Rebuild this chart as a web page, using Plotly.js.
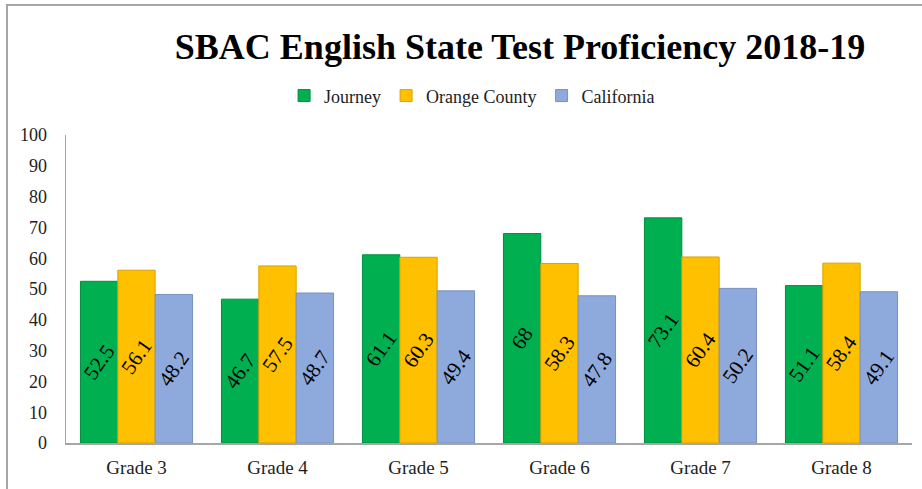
<!DOCTYPE html>
<html>
<head>
<meta charset="utf-8">
<script src="https://cdn.plot.ly/plotly-3.0.1.min.js"></script>
<style>
html,body{margin:0;padding:0;background:#fff;}
#chart{width:922px;height:489px;position:relative;}
#frame{position:absolute;left:6px;top:4px;width:930px;height:500px;border-left:2px solid #a6a6a6;border-top:2px solid #a6a6a6;pointer-events:none;}
</style>
</head>
<body>
<div id="chart"></div>
<div id="frame"></div>
<script>
const categories = ["Grade 3", "Grade 4", "Grade 5", "Grade 6", "Grade 7", "Grade 8"];
const journey = [52.5, 46.7, 61.1, 68, 73.1, 51.1];
const orangeCounty = [56.1, 57.5, 60.3, 58.3, 60.4, 58.4];
const california = [48.2, 48.7, 49.4, 47.8, 50.2, 49.1];
const tickVals = [0, 10, 20, 30, 40, 50, 60, 70, 80, 90, 100];

const serif = "Liberation Serif";

function series(name, vals, color, edge) {
  return {
    type: "bar",
    name: name,
    x: categories,
    y: vals,
    text: vals.map(v => String(v)),
    textposition: "inside",
    insidetextanchor: "middle",
    textangle: -55,
    constraintext: "none",
    textfont: {family: serif, size: 21, color: "#000"},
    marker: {color: color, line: {color: edge, width: 1}},
    hoverinfo: "x+y"
  };
}

const data = [
  series("Journey", journey, "#00B050", "#008c40"),
  series("Orange County", orangeCounty, "#FFC000", "#d9a300"),
  series("California", california, "#8EA9DB", "#7890bd")
];

const layout = {
  width: 922,
  height: 489,
  margin: {l: 66, r: 10, t: 135, b: 46},
  paper_bgcolor: "#fff",
  plot_bgcolor: "#fff",
  barmode: "group",
  bargap: 0.205,
  bargroupgap: 0,
  title: {
    text: "<b>SBAC English State Test Proficiency 2018-19</b>",
    font: {family: serif, size: 36, color: "#000"},
    xref: "container", x: 0.564, xanchor: "center",
    yref: "container", y: 0.906, yanchor: "middle"
  },
  legend: {
    orientation: "h",
    x: 0.48, xanchor: "center",
    y: 1.127, yanchor: "middle",
    font: {family: serif, size: 18, color: "#222"},
    bgcolor: "rgba(0,0,0,0)"
  },
  xaxis: {
    type: "category",
    showline: true, linecolor: "#a6a6a6", linewidth: 1.5,
    showgrid: false, zeroline: false,
    ticks: "",
    ticklabelstandoff: 7,
    tickfont: {family: serif, size: 19, color: "#222"}
  },
  yaxis: {
    range: [0, 100],
    tickvals: tickVals,
    ticktext: tickVals.map(String),
    showline: true, linecolor: "#a6a6a6", linewidth: 1.5,
    showgrid: false, zeroline: false,
    ticks: "",
    ticklabelstandoff: 14,
    tickfont: {family: serif, size: 18, color: "#222"}
  },
  showlegend: true
};

Plotly.newPlot("chart", data, layout, {displayModeBar: false, staticPlot: true});
</script>
</body>
</html>
